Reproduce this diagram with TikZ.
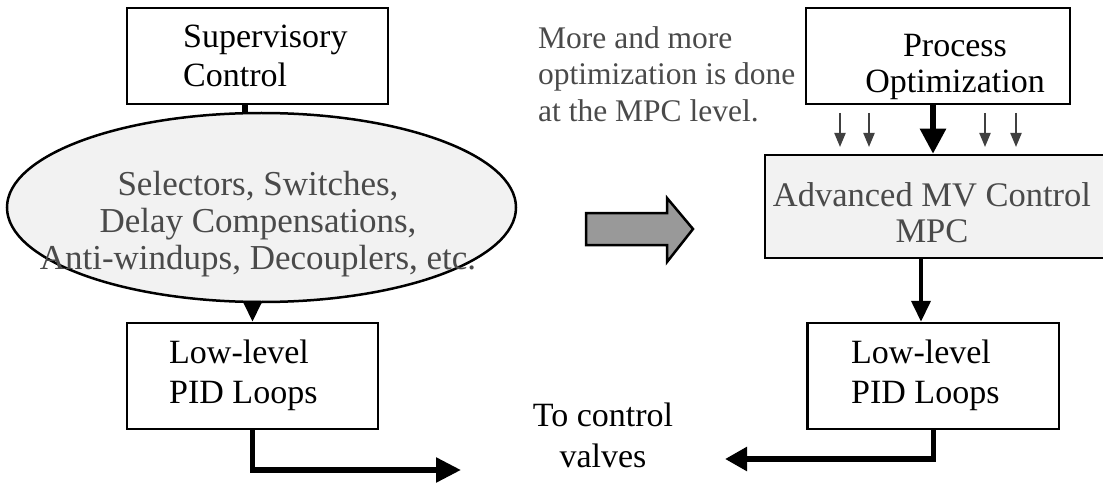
\documentclass[tikz,border=0pt]{standalone}
\usepackage{fontspec}
\setmainfont{Liberation Serif}
\usetikzlibrary{arrows.meta,shapes.geometric}

\definecolor{paleGray}{HTML}{F2F2F2}
\definecolor{txtGray}{HTML}{4A4A4A}
\definecolor{bigGray}{HTML}{999999}
\definecolor{tickGray}{HTML}{404040}

\begin{document}
\begin{tikzpicture}[x=1pt,y=-1pt,
    box/.style={draw,line width=2.5pt,inner sep=0pt},
    txt/.style={inner sep=0pt,align=left,font=\fontsize{34}{39}\selectfont},
    flow/.style={line width=5.5pt,-{Triangle[length=25pt,width=24pt]}},
    thinflow/.style={line width=4pt,-{Triangle[length=21pt,width=19pt]}},
    tick/.style={line width=2pt,draw=tickGray,-{Triangle[length=14pt,width=11pt]}}]
  \useasboundingbox (0,0) rectangle (1103,484);

  % left column
  \node[box,minimum width=261pt,minimum height=96pt] (sup) at (257.5,56) {};
  \node[txt,anchor=north west] (supT) at (183,25) {Supervisory\\Control};
  \node[box,ellipse,fill=paleGray,minimum width=509pt,minimum height=189pt] (sel) at (261.5,207.5) {};
  \node[txt,align=center,anchor=north,text=txtGray,font=\fontsize{35}{37}\selectfont] (selT) at (258,171)
    {Selectors, Switches,\\Delay Compensations,\\Anti-windups, Decouplers, etc.};
  \node[box,minimum width=251pt,minimum height=106pt] (pidL) at (252.5,376) {};
  \node[txt,anchor=north west,font=\fontsize{34}{40}\selectfont] (pidLT) at (169,340) {Low-level\\PID Loops};

  % right column
  \node[txt,anchor=north west,text=txtGray,font=\fontsize{31.5}{36.5}\selectfont] (note) at (538,26)
    {More and more\\optimization is done\\at the MPC level.};
  \node[box,minimum width=264pt,minimum height=96pt] (proc) at (938,56) {};
  \node[txt,align=center,anchor=north,font=\fontsize{34}{36}\selectfont] (procT) at (955,34) {Process\\Optimization};
  \node[box,fill=paleGray,minimum width=345pt,minimum height=103pt] (adv) at (937.5,206.5) {};
  \node[txt,align=center,anchor=north,text=txtGray,font=\fontsize{34.5}{36}\selectfont] (advT) at (932,182)
    {Advanced MV Control\\MPC};
  \node[box,minimum width=251.5pt,minimum height=106pt] (pidR) at (933.25,376) {};
  \node[txt,anchor=north west,font=\fontsize{34}{40}\selectfont] (pidRT) at (851,340) {Low-level\\PID Loops};

  \node[txt,align=center,anchor=north,font=\fontsize{34}{41}\selectfont] (valves) at (603,403) {To control\\valves};

  % big gray arrow
  \draw[line width=2.5pt,fill=bigGray,line join=miter]
    (586,213) -- (667,213) -- (667,198) -- (693,229) -- (667,262) -- (667,245) -- (586,245) -- cycle;

  % connectors
  \draw[line width=5.5pt] ([xshift=-12.5pt]sup.south) -- ([xshift=-16.5pt]sel.north);
  \draw[thinflow] (pidL.north |- sel.south) -- (pidL.north);
  \coordinate (outL) at (461,470);
  \draw[flow] (pidL.south) |- (outL);

  \draw[flow,-{Triangle[length=25pt,width=25pt]}] ([xshift=-5pt]proc.south) -- ([xshift=-4.5pt]adv.north);
  \foreach \x in {840,869,985,1016}
    \draw[tick] (\x,113) -- (\x,147);
  \draw[thinflow] ([xshift=-16.5pt]adv.south) -- ([xshift=-12.25pt]pidR.north);
  \coordinate (outR) at (725,459);
  \draw[flow,-{Triangle[length=22pt,width=23pt]}] (pidR.south) |- (outR);
\end{tikzpicture}
\end{document}
